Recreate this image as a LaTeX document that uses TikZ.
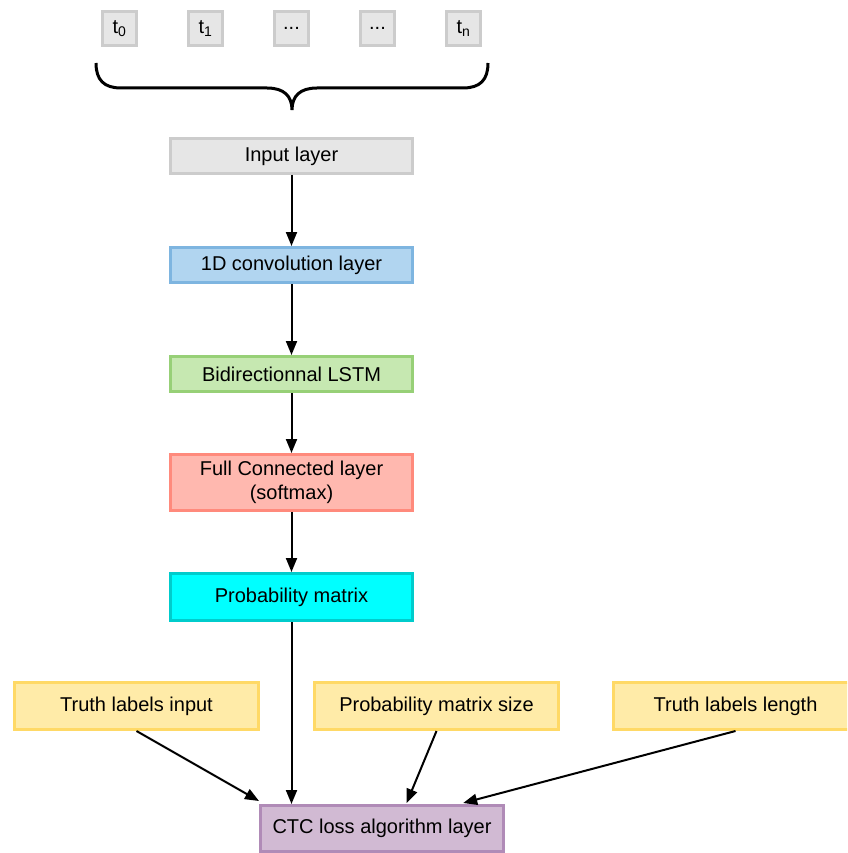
\documentclass[tikz,border=0pt]{standalone}
\usepackage{fontspec}
\setmainfont{Liberation Sans}
\usetikzlibrary{arrows.meta,calc}
\definecolor{grayfill}{HTML}{E6E6E6}
\definecolor{grayline}{HTML}{CCCCCC}
\definecolor{bluefill}{HTML}{B1D5F0}
\definecolor{blueline}{HTML}{7EB5E0}
\definecolor{greenfill}{HTML}{C6E8B1}
\definecolor{greenline}{HTML}{97D077}
\definecolor{redfill}{HTML}{FFB8AF}
\definecolor{redline}{HTML}{FF8A7C}
\definecolor{cyanfill}{HTML}{00FFFF}
\definecolor{cyanline}{HTML}{00CCCC}
\definecolor{yelfill}{HTML}{FFEBA8}
\definecolor{yelline}{HTML}{FFD966}
\definecolor{purfill}{HTML}{D1BAD3}
\definecolor{purline}{HTML}{B08BB7}
\tikzset{
  box/.style={draw, line width=3pt, inner sep=0pt, align=center,
    font=\fontsize{20}{24}\selectfont, text=black},
  tbox/.style={box, fill=grayfill, draw=grayline, minimum width=34pt, minimum height=34pt},
  layer/.style={box, minimum width=242pt},
  arr/.style={line width=2pt, -{Triangle[length=14pt,width=11pt]}},
}
\begin{document}
\begin{tikzpicture}[x=1pt,y=-1pt]
\useasboundingbox (0,0) rectangle (847,853);
\begin{scope}
\clip (0,0) rectangle (847,853);
% time steps
\node[tbox] (t0) at (119.5,28.5) {t\textsubscript{0}};
\node[tbox] (t1) at (205.5,28.5) {t\textsubscript{1}};
\node[tbox] (t2) at (291.5,28.5) {...};
\node[tbox] (t3) at (377.5,28.5) {...};
\node[tbox] (tn) at (463.5,28.5) {t\textsubscript{n}};
% brace
\draw[line width=3pt] (96,63) .. controls (96,80) and (104,88) .. (121,88) -- (267,88)
  .. controls (284,88) and (292,96) .. (292,110)
  .. controls (292,96) and (300,88) .. (317,88) -- (463,88)
  .. controls (480,88) and (488,80) .. (488,63);
% layers
\node[layer, fill=grayfill, draw=grayline, minimum height=35pt] (in) at (291.5,156) {Input layer};
\node[layer, fill=bluefill, draw=blueline, minimum height=35pt] (conv) at (291.5,265) {1D convolution layer};
\node[layer, fill=greenfill, draw=greenline, minimum height=35pt] (lstm) at (291.5,374) {Bidirectionnal LSTM};
\node[layer, fill=redfill, draw=redline, minimum height=56pt] (fc) at (291.5,482.5) {Full Connected layer\\(softmax)};
\node[layer, fill=cyanfill, draw=cyanline, minimum height=47pt] (pm) at (291.5,597) {Probability matrix};
\node[layer, fill=yelfill, draw=yelline, minimum width=244pt, minimum height=47pt] (tli) at (136.5,706) {Truth labels input};
\node[layer, fill=yelfill, draw=yelline, minimum width=244pt, minimum height=47pt] (pms) at (436.5,706) {Probability matrix size};
\node[layer, fill=yelfill, draw=yelline, minimum width=244pt, minimum height=47pt] (tll) at (735.5,706) {Truth labels length};
\node[layer, fill=purfill, draw=purline, minimum width=243pt, minimum height=46pt] (ctc) at (382,828.5) {CTC loss algorithm layer};
\end{scope}
% connectors
\draw[arr] (in.south) -- (conv.north);
\draw[arr] (conv.south) -- (lstm.north);
\draw[arr] (lstm.south) -- (fc.north);
\draw[arr] (fc.south) -- (pm.north);
\draw[arr] (pm.south) -- (pm.south |- ctc.north);
\coordinate (e1) at ($(ctc.north west)+(0,-3)$);
\coordinate (e2) at ($(ctc.north west)!0.6!(ctc.north east)+(0,-1)$);
\coordinate (e3) at ($(ctc.north west)!0.83!(ctc.north east)+(0,-1)$);
\draw[arr] (tli.south) -- (e1);
\draw[arr] (pms.south) -- (e2);
\draw[arr] (tll.south) -- (e3);
\end{tikzpicture}
\end{document}
